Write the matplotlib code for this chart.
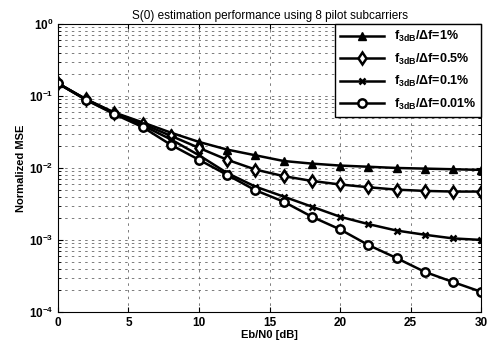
import matplotlib
matplotlib.use('Agg')
import matplotlib.pyplot as plt

plt.rcParams['font.family'] = ['Liberation Sans', 'DejaVu Sans']
plt.rcParams['mathtext.fontset'] = 'custom'
plt.rcParams['mathtext.rm'] = 'Liberation Sans:bold'
plt.rcParams['mathtext.it'] = 'Liberation Sans:bold'
plt.rcParams['mathtext.bf'] = 'Liberation Sans:bold'

# Eb/N0 [dB]
ebn0 = [0, 2, 4, 6, 8, 10, 12, 14, 16, 18, 20, 22, 24, 26, 28, 30]

# normalized MSE, one series per f3dB/df ratio
mse_1 = [0.15, 0.09, 0.059, 0.043, 0.031, 0.023, 0.018, 0.015, 0.0125,
         0.0115, 0.0108, 0.0104, 0.0100, 0.0098, 0.0096, 0.0094]
mse_05 = [0.15, 0.09, 0.058, 0.041, 0.028, 0.019, 0.013, 0.0095, 0.0077,
          0.0066, 0.0059, 0.0054, 0.0050, 0.0048, 0.0047, 0.0047]
mse_01 = [0.15, 0.089, 0.057, 0.039, 0.025, 0.015, 0.0085, 0.0055, 0.0040,
          0.0029, 0.0021, 0.00166, 0.00135, 0.00118, 0.00105, 0.0010]
mse_001 = [0.15, 0.088, 0.056, 0.037, 0.021, 0.013, 0.008, 0.0049, 0.0034,
           0.0021, 0.0014, 0.00085, 0.00056, 0.00036, 0.00026, 0.00019]

labels = [r'f$_{3dB}$/$\Delta$f=1%', r'f$_{3dB}$/$\Delta$f=0.5%',
          r'f$_{3dB}$/$\Delta$f=0.1%', r'f$_{3dB}$/$\Delta$f=0.01%']

fig = plt.figure(figsize=(4.87, 3.54), dpi=100)
ax = fig.add_axes([0.119, 0.119, 0.869, 0.813])

ax.semilogy(ebn0, mse_1, '-^', color='k', lw=1.8, ms=6, mfc='k', label=labels[0])
ax.semilogy(ebn0, mse_05, '-d', color='k', lw=1.8, ms=6, mfc='white', mew=1.8, label=labels[1])
ax.semilogy(ebn0, mse_01, '-x', color='k', lw=1.8, ms=4, mew=1.8, label=labels[2])
ax.semilogy(ebn0, mse_001, '-o', color='k', lw=1.8, ms=6, mfc='white', mew=1.8, label=labels[3])

ax.set_xlim(0, 30)
ax.set_ylim(1e-4, 1)
ax.set_xticks([0, 5, 10, 15, 20, 25, 30])
ax.grid(True, which='major', ls=(0, (3, 5)), color='#666666', lw=0.6)
ax.grid(True, which='minor', axis='y', ls=(0, (3, 5)), color='#666666', lw=0.6)
ax.tick_params(direction='in', which='both', top=True, right=True, labelsize=8.5)
for t in ax.get_xticklabels() + ax.get_yticklabels():
    t.set_fontweight('bold')

ax.set_title('S(0) estimation performance using 8 pilot subcarriers',
             fontsize=8.5, pad=4)
ax.set_xlabel('Eb/N0 [dB]', fontsize=8, fontweight='bold', labelpad=1)
ax.set_ylabel('Normalized MSE', fontsize=8, fontweight='bold', labelpad=2)

leg = ax.legend(loc='upper right', handlelength=3.5, fancybox=False,
                framealpha=1, edgecolor='k', borderaxespad=0, labelspacing=0.6,
                prop={'size': 9, 'weight': 'bold'})
leg.get_frame().set_linewidth(1)

plt.savefig('out.png', dpi=100)
